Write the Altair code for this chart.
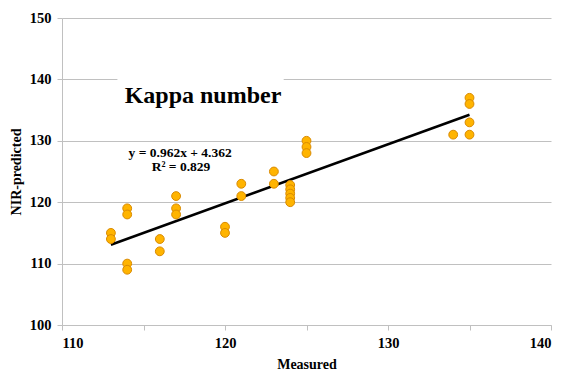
import altair as alt
import pandas as pd

# Measured vs. NIR-predicted kappa number
measured = [113, 113, 114, 114, 114, 114, 116, 116, 117, 117, 117, 120, 120,
            121, 121, 123, 123, 124, 124, 124, 124, 124, 125, 125, 125,
            134, 135, 135, 135, 135]
predicted = [115, 114, 119, 118, 110, 109, 114, 112, 121, 119, 118, 116, 115,
             123, 121, 125, 123, 122.8, 122.1, 121.4, 120.7, 120.0, 130, 129, 128,
             131, 137, 136, 133, 131]

# Linear fit reported on the chart
slope = 0.962
intercept = 4.362
r_squared = 0.829

x_ticks = [110, 115, 120, 125, 130, 135, 140]
y_ticks = [100, 105, 110, 115, 120, 125, 130, 135, 140, 145, 150]

FONT = "Liberation Serif"
GRID = "#c0c0c0"

points = pd.DataFrame({"Measured": measured, "Predicted": predicted})
x_lo, x_hi = min(measured), max(measured)
fit = pd.DataFrame({
    "Measured": [x_lo, x_hi],
    "Predicted": [slope * x_lo + intercept, slope * x_hi + intercept],
})

x_scale = alt.Scale(domain=[110, 140], nice=False, zero=False)
y_scale = alt.Scale(domain=[100, 150], nice=False, zero=False)

ten_only = "datum.value % 10 == 0 ? datum.label : ''"

x_axis = alt.Axis(
    values=x_ticks, labelExpr=ten_only, grid=False,
    domainColor=GRID, tickColor=GRID, tickSize=5,
    labelFont=FONT, labelFontWeight="bold", labelFontSize=14.5, labelColor="black",
    labelPadding=6, titleFont=FONT, titleFontWeight="bold", titleFontSize=14,
    titleColor="black", titlePadding=8,
)
y_axis = alt.Axis(
    values=y_ticks, labelExpr=ten_only,
    gridColor=GRID,
    gridOpacity={"condition": {"test": "datum.value % 10 == 0", "value": 1}, "value": 0},
    domainColor=GRID, tickColor=GRID, tickSize=5,
    labelFont=FONT, labelFontWeight="bold", labelFontSize=14.5, labelColor="black",
    labelPadding=6, titleFont=FONT, titleFontWeight="bold", titleFontSize=14,
    titleColor="black", titlePadding=6,
)

scatter = alt.Chart(points).mark_circle(
    size=78, color="#FFB400", stroke="#D98A00", strokeWidth=1, opacity=1
).encode(
    x=alt.X("Measured:Q", scale=x_scale, axis=x_axis, title="Measured"),
    y=alt.Y("Predicted:Q", scale=y_scale, axis=y_axis, title="NIR-predicted"),
)

fit_line = alt.Chart(fit).mark_line(color="black", strokeWidth=2.6).encode(
    x=alt.X("Measured:Q", scale=x_scale),
    y=alt.Y("Predicted:Q", scale=y_scale),
)

# White backing behind the heading, interrupting the 140 gridline
backing = alt.Chart(pd.DataFrame({"x": [113.4], "x2": [123.6], "y": [139.0], "y2": [141.0]})).mark_rect(
    color="white"
).encode(
    x=alt.X("x:Q", scale=x_scale), x2="x2:Q",
    y=alt.Y("y:Q", scale=y_scale), y2="y2:Q",
)

heading = alt.Chart(pd.DataFrame({"x": [118.65], "y": [136.2], "t": ["Kappa number"]})).mark_text(
    font=FONT, fontWeight="bold", fontSize=24, color="black", align="center", baseline="alphabetic"
).encode(
    x=alt.X("x:Q", scale=x_scale), y=alt.Y("y:Q", scale=y_scale), text="t:N"
)

eq_text = pd.DataFrame({
    "x": [117.25, 117.3],
    "y": [127.35, 125.1],
    "t": [f"y = {slope}x + {intercept}", f"R² = {r_squared}"],
})
equation = alt.Chart(eq_text).mark_text(
    font=FONT, fontWeight="bold", fontSize=13.5, color="black", align="center", baseline="alphabetic"
).encode(
    x=alt.X("x:Q", scale=x_scale), y=alt.Y("y:Q", scale=y_scale), text="t:N"
)

chart = alt.layer(backing, fit_line, scatter, heading, equation).properties(
    width=489, height=307,
    autosize=alt.AutoSizeParams(type="none"),
    padding={"left": 62, "top": 18, "right": 14, "bottom": 49},
    background="white",
).configure_view(stroke=None)

chart.save("out.html", embed_options={"renderer": "svg", "actions": False})
